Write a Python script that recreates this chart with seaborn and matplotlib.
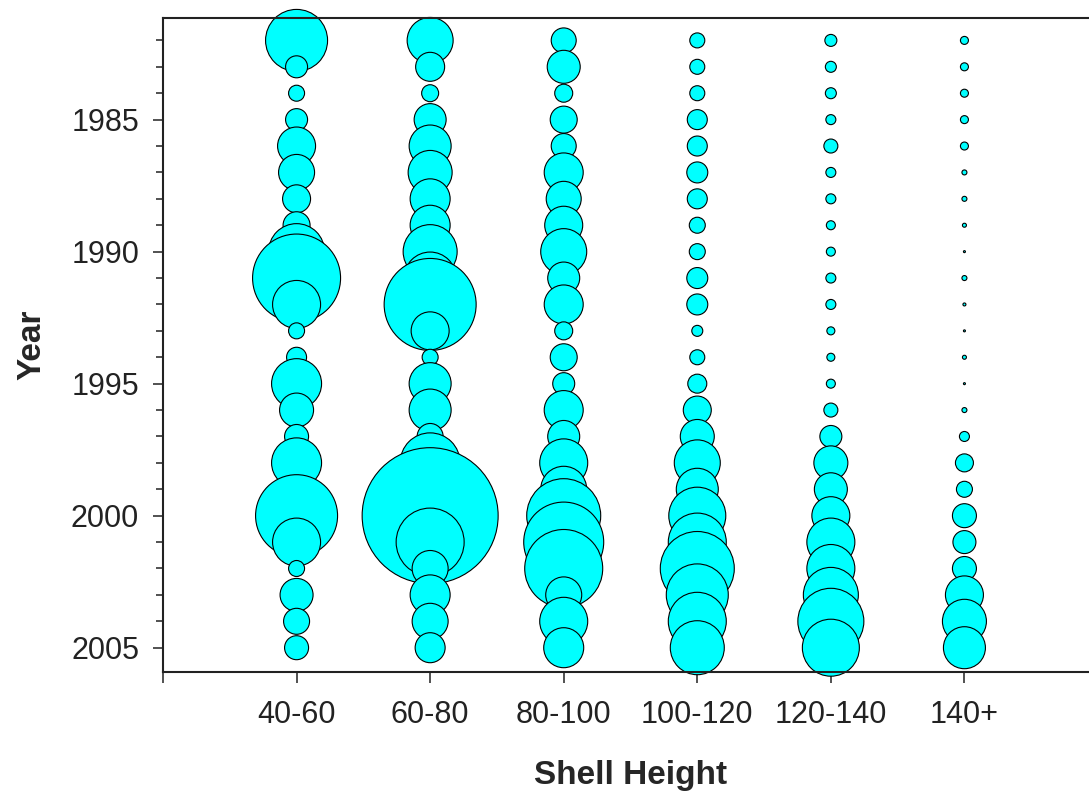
import numpy as np
import pandas as pd
import seaborn as sns
import matplotlib.pyplot as plt
from matplotlib.ticker import MultipleLocator

# survey years, top to bottom
years = list(range(1982, 2006))
size_classes = ['40-60', '60-80', '80-100', '100-120', '120-140', '140+']

# bubble radius (px), one value per year
h40_60 = [31, 11, 8, 11, 19, 18, 14, 13.5, 28, 44, 24, 8,
          10, 25, 17, 12, 25, 10, 41, 24, 8, 16.5, 13, 12]
h60_80 = [23, 14.5, 8.5, 16, 21, 22, 20, 20, 27, 26, 46, 19,
          8, 21, 21, 13, 30, 25, 68, 34, 18, 20, 18, 15]
h80_100 = [12.5, 16.5, 9, 13.5, 12.5, 19.5, 17.5, 19, 23, 16, 19.5, 9,
           13.5, 11, 19.5, 16, 24, 23, 37, 40, 39, 18, 24, 20]
h100_120 = [7.5, 7.5, 7.5, 10, 10, 10.5, 10, 8, 8, 10.5, 10.5, 5.5,
            7.5, 9.5, 14, 17, 23, 21, 28.5, 29, 37, 31, 29, 27]
h120_140 = [6, 5.5, 5.5, 5, 7, 5, 5, 4.5, 4.5, 5, 5, 4,
            4, 4.5, 7, 11, 17, 16.5, 19, 24, 24, 27.5, 33, 28.5]
h140_up = [4, 4, 4, 4, 4, 2.5, 2.5, 2, 1, 2.5, 1.5, 1,
           2, 1, 2.5, 5, 9, 8, 12, 11.5, 12, 19, 22, 21]

columns = [h40_60, h60_80, h80_100, h100_120, h120_140, h140_up]

rows = []
for cls, vals in zip(size_classes, columns):
    for yr, v in zip(years, vals):
        rows.append({'Shell Height': cls, 'Year': yr, 'area': v ** 2})
df = pd.DataFrame(rows)

sns.set_style('white')
plt.rcParams['font.family'] = ['Liberation Sans', 'DejaVu Sans']

fig = plt.figure(figsize=(10.89, 7.94), dpi=100)
ax = fig.add_axes([163 / 1089, 122 / 794, 935 / 1089, 654.3 / 794])

# radius px -> marker area in pt^2 (diameter * 0.72 pt/px)
rmax = 70
sns.scatterplot(data=df, x='Shell Height', y='Year', size='area',
                size_norm=(0, rmax ** 2), sizes=(0, (2 * rmax * 0.72) ** 2),
                color='#00ffff', edgecolor='black', linewidth=0.8,
                alpha=1, legend=False, ax=ax, clip_on=False)

ax.set_xlim(-1, 6)
ax.set_ylim(2005.92, 1981.14)
ax.set_xticks(range(-1, 6))
ax.set_xticklabels([''] + size_classes)
ax.yaxis.set_major_locator(MultipleLocator(5))
ax.yaxis.set_minor_locator(MultipleLocator(1))

ax.tick_params(axis='x', direction='out', length=8, width=1.1, pad=12,
               labelsize=22, bottom=True, colors='#222222')
ax.tick_params(axis='y', which='major', direction='out', length=7.2, width=1.1,
               pad=10, labelsize=22, left=True, colors='#222222')
ax.tick_params(axis='y', which='minor', direction='out', length=5, width=1.1,
               left=True, colors='#222222')

for side in ['left', 'bottom', 'top']:
    ax.spines[side].set_color('#222222')
    ax.spines[side].set_linewidth(1.5)
ax.spines['right'].set_visible(False)

ax.set_xlabel('Shell Height', fontsize=24, fontweight='bold', labelpad=22)
ax.set_ylabel('Year', fontsize=24, fontweight='bold', labelpad=17)

fig.savefig('out.png', dpi=100)
